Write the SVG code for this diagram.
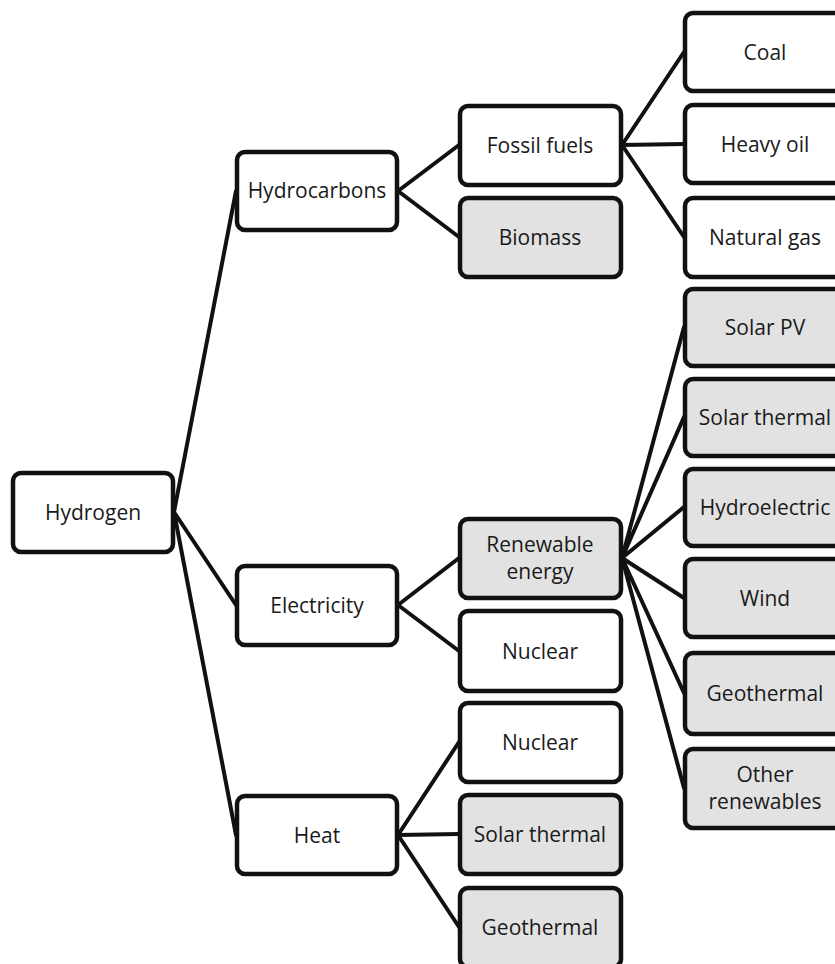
<svg xmlns="http://www.w3.org/2000/svg" width="835" height="964" viewBox="0 0 835 964">
<style>
.b{fill:#ffffff;stroke:#111111;stroke-width:4.5}
.g{fill:#e2e2e2;stroke:#111111;stroke-width:4.5}
.t{font-family:"Open Sans","Noto Sans",sans-serif;font-size:21px;fill:#1a1a1a;text-anchor:middle}
.c{stroke:#111111;stroke-width:4;fill:none;stroke-linecap:round}
</style>
<rect width="835" height="964" fill="#ffffff"/>
<g id="connectors">
<path class="c" d="M174,512 L236,191 M174,512 L236,605 M174,512 L236,835"/>
<path class="c" d="M398,191 L459,145 M398,191 L459,237"/>
<path class="c" d="M622,145 L684,52 M622,145 L684,144 M622,145 L684,237"/>
<path class="c" d="M398,605 L459,558 M398,605 L459,651"/>
<path class="c" d="M622,558 L684,327 M622,558 L684,417 M622,558 L684,507 M622,558 L684,598 M622,558 L684,693 M622,558 L684,788"/>
<path class="c" d="M398,835 L459,742 M398,835 L459,834 M398,835 L459,927"/>
</g>
<g id="hydrogen"><rect class="b" x="13" y="473" width="160" height="79" rx="8"/><text class="t" x="93" y="520">Hydrogen</text></g>
<g id="hydrocarbons"><rect class="b" x="237" y="152" width="160" height="78" rx="8"/><text class="t" x="317" y="198">Hydrocarbons</text></g>
<g id="electricity"><rect class="b" x="237" y="566" width="160" height="79" rx="8"/><text class="t" x="317" y="613">Electricity</text></g>
<g id="heat"><rect class="b" x="237" y="796" width="160" height="78" rx="8"/><text class="t" x="317" y="843">Heat</text></g>
<g id="fossil-fuels"><rect class="b" x="460" y="106" width="161" height="79" rx="8"/><text class="t" x="540" y="153">Fossil fuels</text></g>
<g id="biomass"><rect class="g" x="460" y="198" width="161" height="79" rx="8"/><text class="t" x="540" y="245">Biomass</text></g>
<g id="renewable-energy"><rect class="g" x="460" y="519" width="161" height="79" rx="8"/><text class="t" x="540" y="552">Renewable</text><text class="t" x="540" y="579">energy</text></g>
<g id="nuclear-electricity"><rect class="b" x="460" y="611" width="161" height="80" rx="8"/><text class="t" x="540" y="659">Nuclear</text></g>
<g id="nuclear-heat"><rect class="b" x="460" y="703" width="161" height="79" rx="8"/><text class="t" x="540" y="750">Nuclear</text></g>
<g id="solar-thermal-heat"><rect class="g" x="460" y="795" width="161" height="79" rx="8"/><text class="t" x="540" y="842">Solar thermal</text></g>
<g id="geothermal-heat"><rect class="g" x="460" y="888" width="161" height="79" rx="8"/><text class="t" x="540" y="935">Geothermal</text></g>
<g id="coal"><rect class="b" x="685" y="13" width="160" height="78" rx="8"/><text class="t" x="765" y="60">Coal</text></g>
<g id="heavy-oil"><rect class="b" x="685" y="105" width="160" height="78" rx="8"/><text class="t" x="765" y="152">Heavy oil</text></g>
<g id="natural-gas"><rect class="b" x="685" y="198" width="160" height="79" rx="8"/><text class="t" x="765" y="245">Natural gas</text></g>
<g id="solar-pv"><rect class="g" x="685" y="289" width="160" height="77" rx="8"/><text class="t" x="765" y="335">Solar PV</text></g>
<g id="solar-thermal"><rect class="g" x="685" y="379" width="160" height="77" rx="8"/><text class="t" x="765" y="425">Solar thermal</text></g>
<g id="hydroelectric"><rect class="g" x="685" y="469" width="160" height="77" rx="8"/><text class="t" x="765" y="515">Hydroelectric</text></g>
<g id="wind"><rect class="g" x="685" y="559" width="160" height="78" rx="8"/><text class="t" x="765" y="606">Wind</text></g>
<g id="geothermal"><rect class="g" x="685" y="653" width="160" height="81" rx="8"/><text class="t" x="765" y="701">Geothermal</text></g>
<g id="other-renewables"><rect class="g" x="685" y="749" width="160" height="79" rx="8"/><text class="t" x="765" y="782">Other</text><text class="t" x="765" y="809">renewables</text></g>
</svg>
